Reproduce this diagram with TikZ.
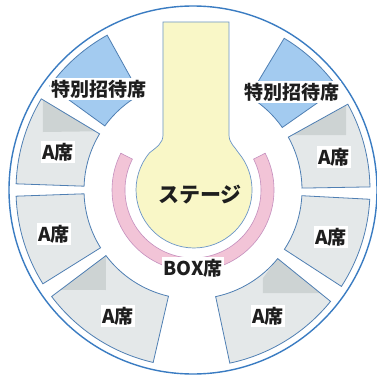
\documentclass[tikz,border=0pt]{standalone}
\usepackage{fontspec}
\newfontfamily\jpfont{Noto Sans CJK JP}
\definecolor{ringblue}{HTML}{3A7CC2}
\definecolor{seatline}{HTML}{4F7FB3}
\definecolor{seatgray}{HTML}{E4E8E9}
\definecolor{shadegray}{HTML}{CDD3D3}
\definecolor{guestblue}{HTML}{A3CBF0}
\definecolor{stageyellow}{HTML}{F9F7C7}
\definecolor{stageline}{HTML}{6A95C8}
\definecolor{boxpink}{HTML}{F2C4D7}
\definecolor{pinkline}{HTML}{C48FBE}
\definecolor{labelblack}{HTML}{1E1E1E}
\begin{document}
\begin{tikzpicture}[
    x=1pt, y=1pt,
    seat/.style={draw=seatline, line width=0.8pt, fill=seatgray},
    seatedge/.style={draw=seatline, line width=0.8pt},
    guest/.style={draw=seatline, line width=0.8pt, fill=guestblue},
    shade/.style={fill=shadegray},
    tag/.style={fill=white, inner sep=1.5pt, text=labelblack,
        font=\jpfont\bfseries\fontsize{19}{19}\selectfont}
]
    % Frame
    \useasboundingbox[fill=white] (-193,-188) rectangle (184,190);
    \draw[ringblue, line width=1.4pt] (0,0) circle[radius=184];

    % Stage
    \draw[fill=stageyellow, draw=stageline, line width=0.7pt]
        (-30,168) -- (-30,55) .. controls (-30,47) and (-36,43) .. (-43.4,37.3)
        arc[start angle=140, end angle=400, radius=58]
        .. controls (42,43) and (36,47) .. (36,55) -- (36,168) -- cycle;

    % BOX seats
    \draw[fill=boxpink, draw=pinkline, line width=0.6pt]
        (153:68) arc[start angle=153, end angle=387, radius=68]
        -- (387:81) arc[start angle=387, end angle=153, radius=81] -- cycle;

    % Guest seats
    \draw[guest] (119:109) arc[start angle=119, end angle=144, radius=109]
        -- (144:177) arc[start angle=144, end angle=119, radius=177] -- cycle;
    \draw[guest] (35:109) arc[start angle=35, end angle=59, radius=109]
        -- (59:177) arc[start angle=59, end angle=35, radius=177] -- cycle;

    % A seats, left
    \fill[seatgray] (149:109) arc[start angle=149, end angle=178, radius=109]
        -- (178:177) arc[start angle=178, end angle=149, radius=177] -- cycle;
    \fill[shade] (149:175) -- (-150,58) -- (149:114) -- cycle;
    \draw[seatedge] (149:109) arc[start angle=149, end angle=178, radius=109]
        -- (178:177) arc[start angle=178, end angle=149, radius=177] -- cycle;
    \draw[seat] (182:109) arc[start angle=182, end angle=212, radius=109]
        -- (212:177) arc[start angle=212, end angle=182, radius=177] -- cycle;
    \fill[seatgray] (217:109) arc[start angle=217, end angle=257, radius=109]
        -- (257:177) arc[start angle=257, end angle=217, radius=177] -- cycle;
    \fill[shade] (217:109) -- (-87,-100) -- (217:166) -- cycle;
    \draw[seatedge] (217:109) arc[start angle=217, end angle=257, radius=109]
        -- (257:177) arc[start angle=257, end angle=217, radius=177] -- cycle;

    % A seats, right
    \fill[seatgray] (1:109) arc[start angle=1, end angle=29, radius=109]
        -- (29:177) arc[start angle=29, end angle=1, radius=177] -- cycle;
    \fill[shade] (29:175) -- (153,55) -- (29:113.4) -- cycle;
    \draw[seatedge] (1:109) arc[start angle=1, end angle=29, radius=109]
        -- (29:177) arc[start angle=29, end angle=1, radius=177] -- cycle;
    \draw[seat] (327:109) arc[start angle=327, end angle=357, radius=109]
        -- (357:177) arc[start angle=357, end angle=327, radius=177] -- cycle;
    \fill[seatgray] (282:109) arc[start angle=282, end angle=321, radius=109]
        -- (321:177) arc[start angle=321, end angle=282, radius=177] -- cycle;
    \fill[shade] (321:109) -- (321:163.7) -- (70,-103) -- (70,-88) -- cycle;
    \draw[seatedge] (282:109) arc[start angle=282, end angle=321, radius=109]
        -- (321:177) arc[start angle=321, end angle=282, radius=177] -- cycle;

    % Labels
    \node[tag] (guestL) at (-94,101) {特別招待席};
    \node[tag] (guestR) at (99,98) {特別招待席};
    \node[tag] (seatA1) at (-135,38) {A席};
    \node[tag] (seatA2) at (-139,-44) {A席};
    \node[tag] (seatA3) at (-75,-126) {A席};
    \node[tag] (seatA4) at (141,33) {A席};
    \node[tag] (seatA5) at (138,-47) {A席};
    \node[tag] (seatA6) at (75,-126) {A席};
    \node[tag] (boxseat) at (0,-78) {BOX席};
    \node[text=labelblack, font=\jpfont\bfseries\fontsize{21}{21}\selectfont]
        (stage) at (7,-5) {ステージ};
\end{tikzpicture}
\end{document}
